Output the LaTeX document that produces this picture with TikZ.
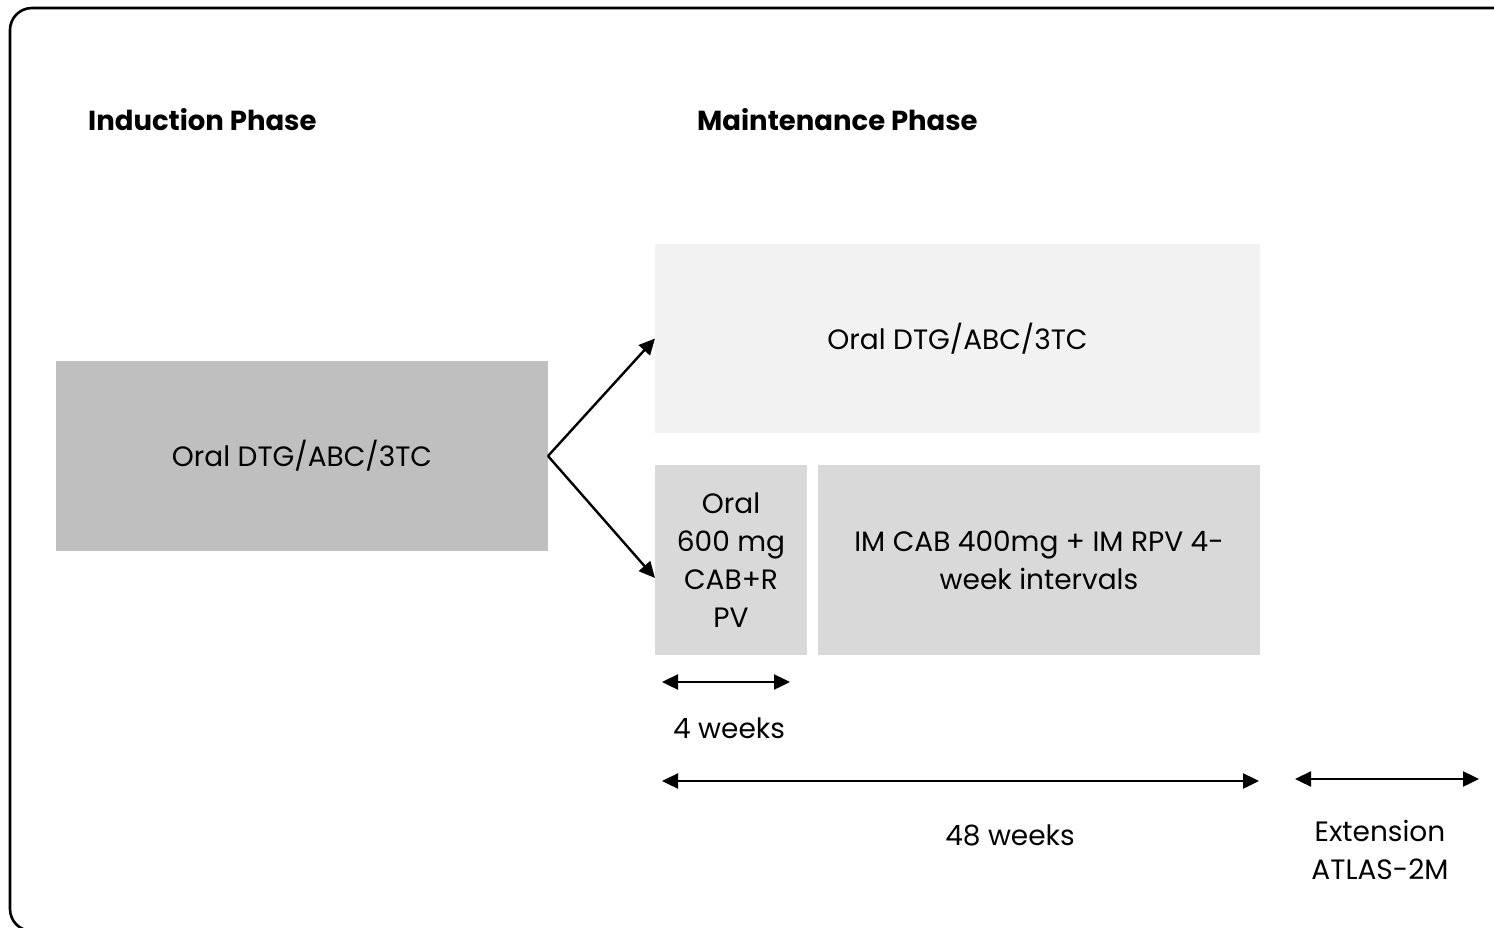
\documentclass[tikz,border=0pt]{standalone}
\usepackage{fontspec}
\setmainfont{Poppins}
\usepackage{tikz}
\usetikzlibrary{arrows.meta,positioning,calc}
\definecolor{inductgrey}{RGB}{191,191,191}
\definecolor{armlight}{RGB}{242,242,242}
\definecolor{armmid}{RGB}{217,217,217}

\begin{document}
\begin{tikzpicture}[
    x=1pt, y=-1pt,
    armbox/.style={rectangle, inner sep=0pt, outer sep=0pt, align=center,
        font=\fontsize{28}{38}\selectfont},
    phase/.style={anchor=west, inner sep=0pt, font=\fontsize{27.5}{30}\selectfont\bfseries},
    lbl/.style={inner sep=0pt, align=center, font=\fontsize{28}{38}\selectfont},
    conn/.style={line width=2.4pt, -{Triangle[length=16pt,width=15pt]}},
    span/.style={line width=2.4pt, {Triangle[length=16pt,width=15pt]}-{Triangle[length=16pt,width=15pt]}},
    frame/.style={draw=black, line width=2.6pt, rounded corners=22pt}
]
\useasboundingbox (0,0) rectangle (1494,928);
\clip (0,0) rectangle (1494,928);
\draw[frame] (10,8) rectangle (1530,931);

% headings
\node[phase] (indlabel) at (88,120) {Induction Phase};
\node[phase] (mainlabel) at (697,120) {Maintenance Phase};

% treatment boxes
\node[armbox, fill=inductgrey, minimum width=492pt, minimum height=190pt] (induct) at (302,456) {Oral DTG/ABC/3TC};
\node[armbox, fill=armlight, minimum width=605pt, minimum height=189pt] (upper) at (957.5,338.5) {Oral DTG/ABC/3TC};
\node[armbox, fill=armmid, minimum width=152pt, minimum height=190pt] (oral) at (731,560) {Oral\\600 mg\\CAB+R\\PV};
\node[armbox, fill=armmid, minimum width=442pt, minimum height=190pt, right=11pt of oral] (inject) {IM CAB 400mg + IM RPV 4-\\week intervals};

\coordinate (oraltip) at (655,578);
\draw[conn] (induct.east) -- (upper.west);
\draw[conn] (induct.east) -- (oraltip);

% time spans
\coordinate (w4a) at (662,682);
\coordinate (w4b) at (790,682);
\draw[span] (w4a) -- (w4b);
\node[lbl] (w4) at (729,728) {4 weeks};

\coordinate (w48a) at (662,781);
\coordinate (w48b) at (1259,781);
\draw[span] (w48a) -- (w48b);
\node[lbl] (w48) at (1010,835) {48 weeks};

\coordinate (exta) at (1295,779);
\coordinate (extb) at (1479,779);
\draw[span] (exta) -- (extb);
\node[lbl] (ext) at (1380,850) {Extension\\ATLAS-2M};
\end{tikzpicture}
\end{document}
